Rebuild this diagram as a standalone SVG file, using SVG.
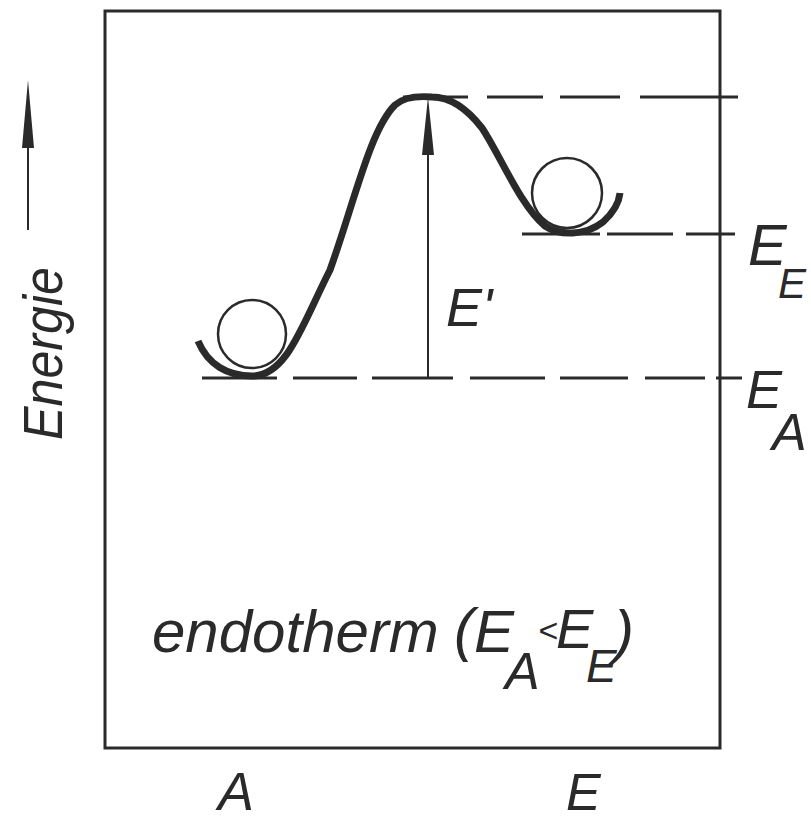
<svg xmlns="http://www.w3.org/2000/svg" width="811" height="823" viewBox="0 0 811 823">
<style>
.lbl{font-family:"Liberation Sans",Arial,sans-serif;font-style:italic;fill:#2a2a2a}
.ln{stroke:#2a2a2a;fill:none;stroke-linecap:butt}
.dash{stroke:#2a2a2a;stroke-width:3;fill:none}
.ball{stroke:#2a2a2a;stroke-width:2.5;fill:none}
</style>
<rect width="811" height="823" fill="#ffffff"/>
<g id="frame">
<rect x="105" y="11" width="615" height="737" class="ln" stroke-width="3"/>
</g>
<g id="connectors">
<g id="level-top">
<line x1="403" y1="97" x2="468" y2="97" class="dash" stroke-width="4"/>
<line x1="487" y1="97" x2="543" y2="97" class="dash"/>
<line x1="560" y1="97" x2="620" y2="97" class="dash"/>
<line x1="640" y1="97" x2="738" y2="97" class="dash"/>
</g>
<g id="level-EE">
<line x1="522" y1="234" x2="600" y2="234" class="dash"/>
<line x1="607" y1="234" x2="673" y2="234" class="dash"/>
<line x1="686" y1="234" x2="735" y2="234" class="dash"/>
</g>
<g id="level-EA">
<line x1="202" y1="378" x2="277" y2="378" class="dash"/>
<line x1="293" y1="378" x2="357" y2="378" class="dash"/>
<line x1="372" y1="378" x2="453" y2="378" class="dash"/>
<line x1="470" y1="378" x2="545" y2="378" class="dash"/>
<line x1="560" y1="378" x2="628" y2="378" class="dash"/>
<line x1="645" y1="378" x2="705" y2="378" class="dash"/>
<line x1="716" y1="378" x2="742" y2="378" class="dash"/>
</g>
<g id="arrow-Eprime">
<line x1="428" y1="378" x2="428" y2="150" class="ln" stroke-width="2"/>
<polygon points="428,97 434,155 422,155" fill="#2a2a2a"/>
</g>
<g id="arrow-energie">
<line x1="28" y1="230" x2="28" y2="140" class="ln" stroke-width="2"/>
<polygon points="28,80 34,148 22,148" fill="#2a2a2a"/>
</g>
</g>
<g id="curve">
<path d="M198 341 C208 365 228 376 252 376 C287 376 302 325 330 270 C355 200 370 130 395 105 C405 96 420 96 432 97 C452 97 468 110 482 128 C500 155 520 205 545 226 C560 236 585 236 603 222 C613 213 619 203 620 193" class="ln" stroke-width="7" stroke-linejoin="round"/>
</g>
<g id="ball-A"><circle cx="252" cy="334" r="34" class="ball"/></g>
<g id="ball-E"><circle cx="567" cy="193" r="35" class="ball"/></g>
<g id="labels">
<text class="lbl" font-size="56" textLength="173" lengthAdjust="spacingAndGlyphs" transform="translate(62,440) rotate(-90)">Energie</text>
<text class="lbl" font-size="54" x="446" y="326">E'</text>
<text class="lbl" font-size="58" x="748" y="265">E</text>
<text class="lbl" font-size="42" x="778" y="298">E</text>
<text class="lbl" font-size="54" x="746" y="408">E</text>
<text class="lbl" font-size="52" x="772" y="450">A</text>
<text class="lbl" font-size="60" x="152" y="652">endotherm</text>
<text class="lbl" font-size="60" x="454" y="650">(</text>
<text class="lbl" font-size="60" x="474" y="652">E</text>
<text class="lbl" font-size="52" x="505" y="689">A</text>
<text class="lbl" font-size="34" x="538" y="642">&lt;</text>
<text class="lbl" font-size="56" x="556" y="648">E</text>
<text class="lbl" font-size="46" x="586" y="682">E</text>
<text class="lbl" font-size="60" x="614" y="652">)</text>
<text class="lbl" font-size="54" x="218" y="810">A</text>
<text class="lbl" font-size="52" x="566" y="810">E</text>
</g>
</svg>
